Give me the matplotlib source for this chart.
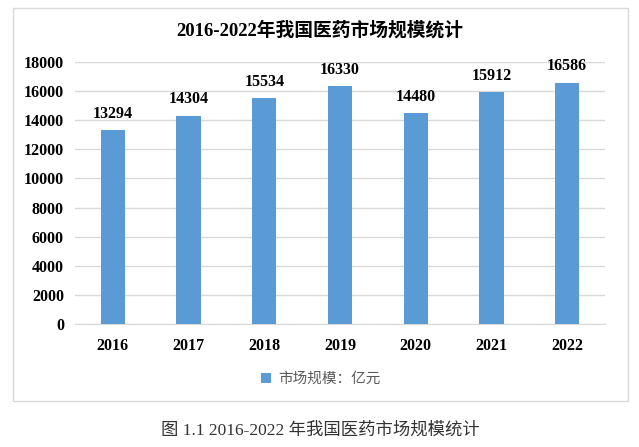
import matplotlib
matplotlib.use("Agg")
import matplotlib.pyplot as plt
from matplotlib.patches import Rectangle

years = ["2016", "2017", "2018", "2019", "2020", "2021", "2022"]
values = [13294, 14304, 15534, 16330, 14480, 15912, 16586]
yticks = [0, 2000, 4000, 6000, 8000, 10000, 12000, 14000, 16000, 18000]

title = "2016-2022年我国医药市场规模统计"
legend_label = "市场规模：亿元"
caption = "图 1.1 2016-2022 年我国医药市场规模统计"

fam = ["Liberation Serif", "Noto Sans CJK SC", "DejaVu Sans"]
plt.rcParams["font.family"] = fam

W, H = 639, 447
fig = plt.figure(figsize=(W / 100, H / 100), dpi=100)

# outer frame
fig.patches.append(Rectangle((13 / W, 1 - 401 / H), (628 - 13) / W, (401 - 8) / H,
                             transform=fig.transFigure, fill=False,
                             edgecolor="#D9D9D9", linewidth=1.0))

ax = fig.add_axes([75 / W, 1 - 324 / H, (605 - 75) / W, (324 - 62) / H])
x = range(len(years))
bars = ax.bar(x, values, width=0.32, color="#5B9BD5", label=legend_label, zorder=3)
ax.set_xlim(-0.5, len(years) - 0.5)
ax.set_ylim(0, 18000)
ax.set_yticks(yticks)
ax.set_xticks(list(x))
ax.set_xticklabels(years)
ax.grid(axis="y", color="#D9D9D9", linewidth=1.0, zorder=0)
for s in ["left", "right", "top"]:
    ax.spines[s].set_visible(False)
ax.spines["bottom"].set_color("#D9D9D9")
ax.tick_params(axis="both", length=0, labelsize=11.5)
ax.tick_params(axis="x", pad=10)
ax.tick_params(axis="y", pad=8)
for lab in ax.get_xticklabels() + ax.get_yticklabels():
    lab.set_fontweight("bold")

for xi, v in zip(x, values):
    ax.annotate(f"{v}", (xi, v), xytext=(0, 6), textcoords="offset points",
                ha="center", va="bottom", fontsize=11.5, fontweight="bold")

fig.text(320 / W, 1 - 30 / H, title, ha="center", va="center",
         fontsize=13.5, fontweight="bold")

leg = fig.legend(loc="center", bbox_to_anchor=(321 / W, 1 - 379 / H), frameon=False,
                 fontsize=10.5, handlelength=0.7, handleheight=0.7, handletextpad=0.5)
for t in leg.get_texts():
    t.set_color("#595959")

fig.text(320 / W, 1 - 430 / H, caption, ha="center", va="center",
         fontsize=12.5, color="#333333")

fig.savefig("out.png", dpi=100)
